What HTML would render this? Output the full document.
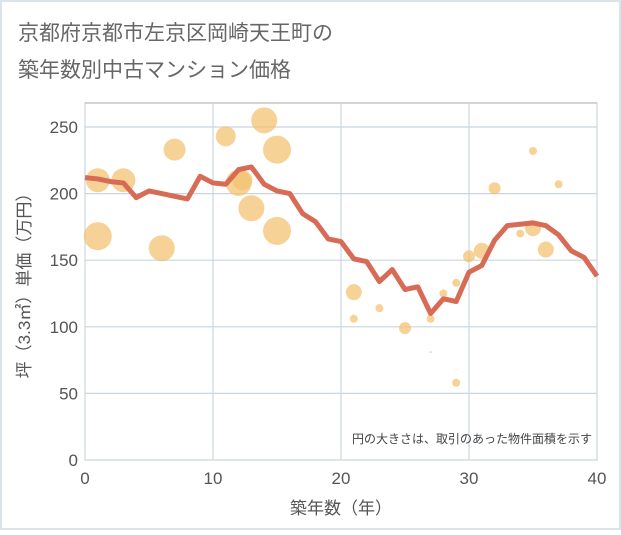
<!DOCTYPE html>
<html><head><meta charset="utf-8"><style>
body{margin:0;background:#fff}
svg text{font-family:"Liberation Sans","Noto Sans CJK JP",sans-serif}
</style></head><body>
<svg width="621" height="530" viewBox="0 0 621 530">
<rect x="1" y="1" width="619" height="528" fill="#fff" stroke="#dde3ea" stroke-width="2"/>
<text x="18" y="40" font-size="21" fill="#666">京都府京都市左京区岡崎天王町の</text>
<text x="18" y="77" font-size="21" fill="#666">築年数別中古マンション価格</text>
<g id="plot"></g>
</svg>
<script>
const xTicks=[0,10,20,30,40];
const yTicks=[0,50,100,150,200,250];
const lineYears=[0,1,2,3,4,5,6,7,8,9,10,11,12,13,14,15,16,17,18,19,20,21,22,23,24,25,26,27,28,29,30,31,32,33,34,35,36,37,38,39,40];
const linePrices=[212,211,209,208,197,202,200,198,196,213,208,207,218,220,207,202,200,185,179,166,164,151,149,134,143,128,130,110,121,119,141,146,165,176,177,178,176,169,157,152,138];
const bubbleYears=[1,1,3,6,7,11,12,12.3,13,14,15,15,21,21,23,25,27,27,28,29,29,29,30,31,32,34,35,35,36,37];
const bubblePrices=[210,168,210,159,233,243,208,210,189,255,233,172,126,106,114,99,106,81,125,133,58,68,153,157,204,170,174,232,158,207];
const bubbleSizes=[12,14,12,13,11,10,13,10,13,13,14,14,8,4,4,6,4,1,4,4,4,0.6,6,8,6,4,8,4,8,4];
const L=85,R=597,T=103,B=460;
const xs=v=>L+(v-0)/40*(R-L);
const ys=v=>B-v/250*(B-127);
const g=document.getElementById('plot');
const NS='http://www.w3.org/2000/svg';
function mk(t,a){const e=document.createElementNS(NS,t);for(const k in a)e.setAttribute(k,a[k]);g.appendChild(e);return e;}
const bg=mk('rect',{x:L,y:T,width:R-L,height:B-T,fill:'#fff',stroke:'#aaa','stroke-width':1});


yTicks.forEach(v=>{
 const l=mk('line',{x1:L,x2:R,y1:ys(v),y2:ys(v),stroke:'#c9d5e2','stroke-width':1.2});
 
 
 const t=mk('text',{x:L-7,y:ys(v)+6,'text-anchor':'end','font-size':17,fill:'#555'});
 t.textContent=v;
 
 
});
xTicks.forEach(v=>{
 const l=mk('line',{x1:xs(v),x2:xs(v),y1:T,y2:B,stroke:'#c9d5e2','stroke-width':1.2});
 
 
 const t=mk('text',{x:xs(v),y:B+24,'text-anchor':'middle','font-size':17,fill:'#555'});
 t.textContent=v;
 
 
});
bubbleYears.forEach((v,i)=>{
 const c=mk('circle',{cx:xs(v),cy:ys(bubblePrices[i]),r:bubbleSizes[i],fill:'#f2c06e','fill-opacity':0.72});
 
 
});
const pl=mk('polyline',{points:lineYears.map((v,i)=>xs(v)+','+ys(linePrices[i])).join(' '),fill:'none',stroke:'#d76b55','stroke-width':5,'stroke-linejoin':'round'});


const n=mk('text',{x:592,y:443,'text-anchor':'end','font-size':12,fill:'#444'});
n.textContent='円の大きさは、取引のあった物件面積を示す';


const xt=mk('text',{x:(L+R)/2,y:514,'text-anchor':'middle','font-size':17,fill:'#555'});
xt.textContent='築年数（年）';


const yt=mk('text',{x:0,y:0,'text-anchor':'middle','font-size':17,fill:'#555',transform:'translate(30,'+((T+B)/2)+') rotate(-90)'});
yt.textContent='坪（3.3㎡）単価（万円）';


</script>
</body></html>
